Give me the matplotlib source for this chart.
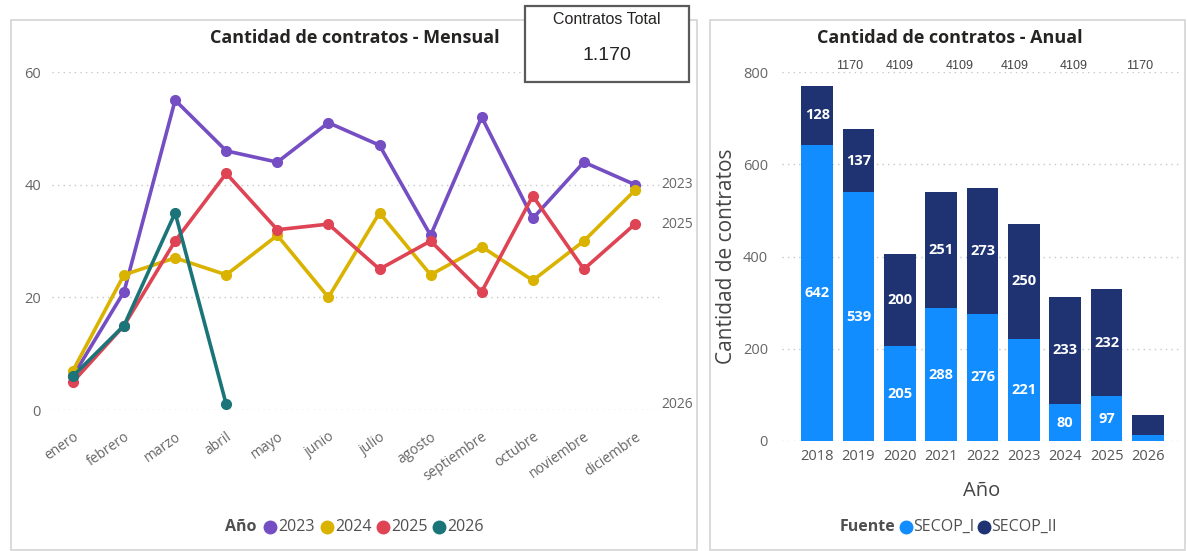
import matplotlib
matplotlib.use("Agg")
import matplotlib.pyplot as plt
from matplotlib.patches import Rectangle
from matplotlib.lines import Line2D
import numpy as np

plt.rcParams['font.family'] = ['Open Sans', 'DejaVu Sans']

meses = ['enero', 'febrero', 'marzo', 'abril', 'mayo', 'junio', 'julio',
         'agosto', 'septiembre', 'octubre', 'noviembre', 'diciembre']
anios_linea = ['2023', '2024', '2025', '2026']
c2023 = [6, 21, 55, 46, 44, 51, 47, 31, 52, 34, 44, 40]
c2024 = [7, 24, 27, 24, 31, 20, 35, 24, 29, 23, 30, 39]
c2025 = [5, 15, 30, 42, 32, 33, 25, 30, 21, 38, 25, 33]
c2026 = [6, 15, 35, 1]
etiquetas_fin = ['2023', '2025', '2026']

anios_barra = ['2018', '2019', '2020', '2021', '2022', '2023', '2024', '2025', '2026']
secop_i = [642, 539, 205, 288, 276, 221, 80, 97, 14]
secop_ii = [128, 137, 200, 251, 273, 250, 233, 232, 43]
fila_sup_txt = ['1170', '4109', '4109', '4109', '4109', '1170']
fila_sup_x = [0.78, 2.0, 3.45, 4.78, 6.2, 7.8]

total_txt = '1.170'

col_lineas = ['#744EC2', '#D9B300', '#DE4454', '#1A7478']
col_i = '#118DFF'
col_ii = '#1F3372'
gris = '#666666'

fig = plt.figure(figsize=(11.87, 5.51), dpi=100)
W, H = 1187, 551

def fx(px):
    return px / W

def fy(py):
    return 1 - py / H

# marcos de los dos paneles
for x0, x1 in [(11, 697), (710, 1185)]:
    fig.add_artist(Rectangle((fx(x0), fy(550)), fx(x1 - x0), (550 - 20) / H,
                             transform=fig.transFigure, fill=False,
                             edgecolor='#d4d4d4', lw=1.2))

# ---------- mensual ----------
ax1 = fig.add_axes([fx(52), fy(410), fx(608), (410 - 72) / H])
series = [c2023, c2024, c2025, c2026]
for vals, col in zip(series, col_lineas):
    x = np.arange(len(vals))
    ax1.plot(x, vals, color=col, lw=2.6, marker='o', ms=7, clip_on=False,
             solid_capstyle='round')
ax1.set_xlim(-0.41, 11.49)
ax1.set_ylim(0, 60)
ax1.set_yticks([0, 20, 40, 60])
ax1.set_xticks(np.arange(12))
ax1.set_xticklabels(meses, rotation=35, ha='right', rotation_mode='anchor',
                    color=gris, fontsize=10)
ax1.tick_params(axis='x', length=0, pad=14)
ax1.tick_params(axis='y', length=0, pad=8, labelcolor=gris, labelsize=10.5)
for sp in ax1.spines.values():
    sp.set_visible(False)
ax1.grid(axis='y', color='#c8c8c8', ls=(0, (1, 3)), lw=1)
ax1.set_axisbelow(True)

fin_vals = {'2023': c2023[-1], '2024': c2024[-1], '2025': c2025[-1], '2026': c2026[-1]}
for et in etiquetas_fin:
    ax1.annotate(et, xy=(1, fin_vals[et]), xycoords=('axes fraction', 'data'),
                 xytext=(1, 0), textcoords='offset points', va='center',
                 ha='left', color=gris, fontsize=10)

fig.text(fx(355), fy(38), 'Cantidad de contratos - Mensual', ha='center',
         va='center', fontsize=13, fontweight='bold', color='#252423')

# leyenda Año
fig.text(fx(225), fy(527), 'Año', ha='left', va='center', fontsize=11.5,
         fontweight='bold', color='#505050')
lx = [270, 327, 383, 439]
for px, col, et in zip(lx, col_lineas, anios_linea):
    fig.add_artist(Line2D([fx(px)], [fy(527)], marker='o', ms=9, color=col,
                          transform=fig.transFigure))
    fig.text(fx(px + 8), fy(527), et, ha='left', va='center', fontsize=11.5,
             color='#505050')

# tarjeta total
fig.add_artist(Rectangle((fx(525), fy(82)), fx(164), 76 / H,
                         transform=fig.transFigure, facecolor='white',
                         edgecolor='#5a5a5a', lw=1.6, zorder=5))
fig.text(fx(607), fy(19), 'Contratos Total', ha='center', va='center',
         fontsize=11.5, color='#252423', zorder=6,
         family=['Liberation Sans Narrow', 'Liberation Sans'])
fig.text(fx(607), fy(55), total_txt, ha='center', va='center',
         fontsize=14, color='#252423', zorder=6,
         family=['Liberation Sans', 'DejaVu Sans'])

# ---------- anual ----------
ax2 = fig.add_axes([fx(782), fy(441), fx(399), (441 - 72) / H])
xb = np.arange(len(anios_barra))
ax2.bar(xb, secop_i, width=0.77, color=col_i, label='SECOP_I')
ax2.bar(xb, secop_ii, width=0.77, bottom=secop_i, color=col_ii, label='SECOP_II')
for i in range(len(xb)):
    if anios_barra[i] == '2026':
        continue
    ax2.text(xb[i], secop_i[i] / 2, str(secop_i[i]), ha='center', va='center',
             color='white', fontsize=10.5, fontweight='bold')
    ax2.text(xb[i], secop_i[i] + secop_ii[i] / 2, str(secop_ii[i]), ha='center',
             va='center', color='white', fontsize=10.5, fontweight='bold')
for xt, t in zip(fila_sup_x, fila_sup_txt):
    ax2.text(xt, 800, t, ha='center', va='bottom', fontsize=9, color='#444444',
             family=['Liberation Sans Narrow', 'Liberation Sans'])
ax2.set_xlim(-0.85, 8.8)
ax2.set_ylim(0, 800)
ax2.set_yticks([0, 200, 400, 600, 800])
ax2.set_xticks(xb)
ax2.set_xticklabels(anios_barra, color='#555555', fontsize=10.5)
ax2.tick_params(axis='x', length=0, pad=6)
ax2.tick_params(axis='y', length=0, pad=10, labelcolor=gris, labelsize=10.5)
for sp in ax2.spines.values():
    sp.set_visible(False)
ax2.grid(axis='y', color='#c8c8c8', ls=(0, (1, 3)), lw=1)
ax2.set_axisbelow(True)
ax2.set_xlabel('Año', fontsize=14.5, color='#444444', labelpad=12)
ax2.set_ylabel('Cantidad de contratos', fontsize=15, color='#444444', labelpad=4)

fig.text(fx(950), fy(38), 'Cantidad de contratos - Anual', ha='center',
         va='center', fontsize=13, fontweight='bold', color='#252423')

fig.text(fx(840), fy(527), 'Fuente', ha='left', va='center', fontsize=11.5,
         fontweight='bold', color='#505050')
for px, col, et in [(906, col_i, 'SECOP_I'), (984, col_ii, 'SECOP_II')]:
    fig.add_artist(Line2D([fx(px)], [fy(527)], marker='o', ms=9, color=col,
                          transform=fig.transFigure))
    fig.text(fx(px + 7), fy(527), et, ha='left', va='center', fontsize=11.5,
             color='#505050')

fig.savefig('out.png', dpi=100)
